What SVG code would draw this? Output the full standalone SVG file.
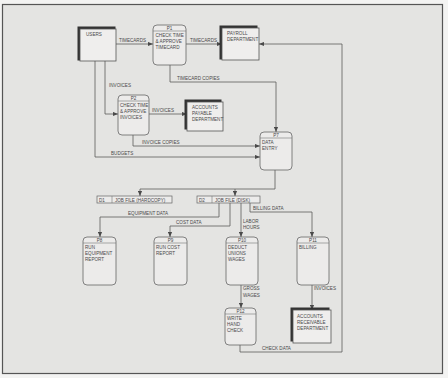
<svg xmlns="http://www.w3.org/2000/svg" width="448" height="378" viewBox="0 0 448 378">
<defs>
<style>
text{font-family:"Liberation Sans",Arial,sans-serif;font-size:4.6px;fill:#4a4a4a;}
.proc{fill:#ecebea;stroke:#666;stroke-width:0.8;}
.hdr{stroke:#777;stroke-width:0.6;}
.ent{fill:#efeeed;stroke:#555;stroke-width:0.8;}
.sh{fill:#333;}
.store{fill:#ecebea;stroke:#666;stroke-width:0.7;}
.c{fill:none;stroke:#5a5a5a;stroke-width:0.8;}
.mid{text-anchor:middle;}
</style>
<marker id="ah" viewBox="0 0 6 6" refX="6" refY="3" markerWidth="5" markerHeight="5" orient="auto" markerUnits="userSpaceOnUse">
<path d="M0,0.5 L6,3 L0,5.5 Z" fill="#4a4a4a"/>
</marker>
</defs>
<rect x="0" y="0" width="448" height="378" fill="#f3f3f2"/>
<rect x="2.5" y="4.5" width="440" height="369" fill="#e4e4e2" stroke="#555" stroke-width="1.2"/>

<g id="connectors">
<path class="c" d="M116,44 H153" marker-end="url(#ah)"/>
<path class="c" d="M186,44 H222" marker-end="url(#ah)"/>
<path class="c" d="M170,65 V82 H276 V132" marker-end="url(#ah)"/>
<path class="c" d="M105,61 V114 H118" marker-end="url(#ah)"/>
<path class="c" d="M148,114 H187" marker-end="url(#ah)"/>
<path class="c" d="M133,135 V146 H260" marker-end="url(#ah)"/>
<path class="c" d="M95,61 V157 H260" marker-end="url(#ah)"/>
<path class="c" d="M275,170 V189 H140 V196" marker-end="url(#ah)"/>
<path class="c" d="M235,189 V196" marker-end="url(#ah)"/>
<path class="c" d="M219,203 V217 H100 V237" marker-end="url(#ah)"/>
<path class="c" d="M230,203 V226 H170 V237" marker-end="url(#ah)"/>
<path class="c" d="M241,203 V237" marker-end="url(#ah)"/>
<path class="c" d="M250,203 V212 H312 V237" marker-end="url(#ah)"/>
<path class="c" d="M241,285 V308" marker-end="url(#ah)"/>
<path class="c" d="M312,285 V310" marker-end="url(#ah)"/>
<path class="c" d="M240,345 V352 H342 V44 H259" marker-end="url(#ah)"/>
<text x="119" y="42">TIMECARDS</text>
<text x="190" y="42">TIMECARDS</text>
<text x="177" y="80">TIMECARD COPIES</text>
<text x="109" y="87">INVOICES</text>
<text x="152" y="112">INVOICES</text>
<text x="142" y="144">INVOICE COPIES</text>
<text x="111" y="155">BUDGETS</text>
<text x="128" y="215">EQUIPMENT DATA</text>
<text x="176" y="224">COST DATA</text>
<text x="243" y="223">LABOR</text>
<text x="243" y="229">HOURS</text>
<text x="253" y="210">BILLING DATA</text>
<text x="243" y="290">GROSS</text>
<text x="243" y="297">WAGES</text>
<text x="314" y="290">INVOICES</text>
<text x="262" y="350">CHECK DATA</text>
</g>

<g id="users">
<rect class="sh" x="77.5" y="26.5" width="38" height="34"/>
<rect class="ent" x="80" y="29" width="36" height="32"/>
<text x="86" y="36">USERS</text>
</g>
<g id="payroll">
<rect class="sh" x="219.5" y="25.5" width="38" height="34"/>
<rect class="ent" x="222" y="28" width="37" height="32"/>
<text x="227" y="35">PAYROLL</text>
<text x="227" y="41">DEPARTMENT</text>
</g>
<g id="accounts-payable">
<rect class="sh" x="184.5" y="99.5" width="37" height="30"/>
<rect class="ent" x="187" y="102" width="36" height="29"/>
<text x="192" y="109">ACCOUNTS</text>
<text x="192" y="115">PAYABLE</text>
<text x="192" y="121">DEPARTMENT</text>
</g>
<g id="accounts-receivable">
<rect class="sh" x="290.5" y="307.5" width="39" height="34"/>
<rect class="ent" x="293" y="310" width="38" height="33"/>
<text x="297" y="318">ACCOUNTS</text>
<text x="297" y="324">RECEIVABLE</text>
<text x="297" y="330">DEPARTMENT</text>
</g>

<g id="p1">
<rect class="proc" x="153" y="25" width="33" height="40" rx="4"/>
<line class="hdr" x1="153" y1="31" x2="186" y2="31"/>
<text class="mid" x="169.5" y="30">P1</text>
<text x="155.5" y="37">CHECK TIME</text>
<text x="155.5" y="43">&amp; APPROVE</text>
<text x="155.5" y="49">TIMECARD</text>
</g>
<g id="p2">
<rect class="proc" x="118" y="95" width="31" height="40" rx="4"/>
<line class="hdr" x1="118" y1="101" x2="149" y2="101"/>
<text class="mid" x="133.5" y="100">P2</text>
<text x="120" y="107">CHECK TIME</text>
<text x="120" y="113">&amp; APPROVE</text>
<text x="120" y="119">INVOICES</text>
</g>
<g id="p7">
<rect class="proc" x="260" y="132" width="32" height="38" rx="4"/>
<line class="hdr" x1="260" y1="138" x2="292" y2="138"/>
<text class="mid" x="276" y="137">P7</text>
<text x="262" y="144">DATA</text>
<text x="262" y="150">ENTRY</text>
</g>
<g id="d1">
<rect class="store" x="97" y="196" width="75" height="7"/>
<line class="hdr" x1="112" y1="196" x2="112" y2="203"/>
<text x="99" y="201.5">D1</text>
<text x="115" y="201.5">JOB FILE (HARDCOPY)</text>
</g>
<g id="d2">
<rect class="store" x="197" y="196" width="63" height="7"/>
<line class="hdr" x1="212" y1="196" x2="212" y2="203"/>
<text x="199" y="201.5">D2</text>
<text x="215" y="201.5">JOB FILE (DISK)</text>
</g>
<g id="p8">
<rect class="proc" x="83" y="237" width="33" height="48" rx="4"/>
<line class="hdr" x1="83" y1="243" x2="116" y2="243"/>
<text class="mid" x="99.5" y="242">P8</text>
<text x="85" y="249">RUN</text>
<text x="85" y="255">EQUIPMENT</text>
<text x="85" y="261">REPORT</text>
</g>
<g id="p9">
<rect class="proc" x="154" y="237" width="33" height="48" rx="4"/>
<line class="hdr" x1="154" y1="243" x2="187" y2="243"/>
<text class="mid" x="170.5" y="242">P9</text>
<text x="156" y="249">RUN COST</text>
<text x="156" y="255">REPORT</text>
</g>
<g id="p10">
<rect class="proc" x="226" y="237" width="32" height="48" rx="4"/>
<line class="hdr" x1="226" y1="243" x2="258" y2="243"/>
<text class="mid" x="242" y="242">P10</text>
<text x="228" y="249">DEDUCT</text>
<text x="228" y="255">UNIONS</text>
<text x="228" y="261">WAGES</text>
</g>
<g id="p11">
<rect class="proc" x="297" y="237" width="32" height="48" rx="4"/>
<line class="hdr" x1="297" y1="243" x2="329" y2="243"/>
<text class="mid" x="313" y="242">P11</text>
<text x="299" y="249">BILLING</text>
</g>
<g id="p12">
<rect class="proc" x="225" y="308" width="31" height="37" rx="4"/>
<line class="hdr" x1="225" y1="314" x2="256" y2="314"/>
<text class="mid" x="240.5" y="313">P12</text>
<text x="227" y="320">WRITE</text>
<text x="227" y="326">HAND</text>
<text x="227" y="332">CHECK</text>
</g>
</svg>
